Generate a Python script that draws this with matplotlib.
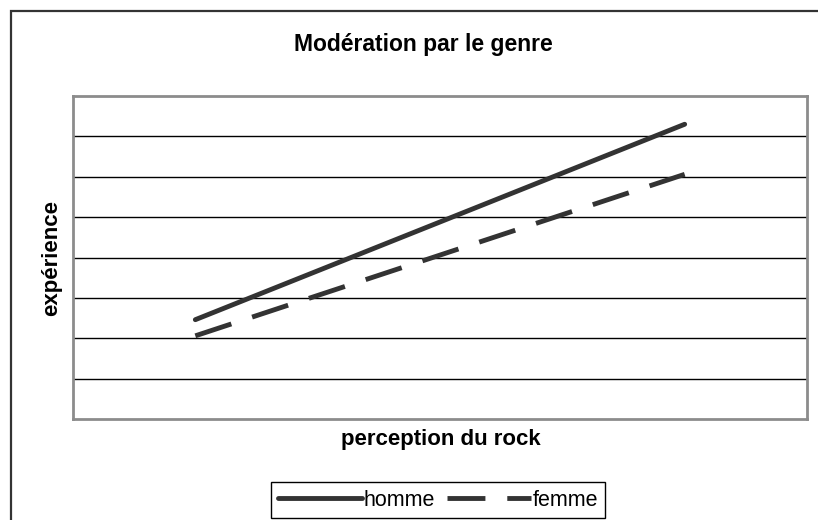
import matplotlib
matplotlib.use('agg')
import matplotlib.pyplot as plt
from matplotlib.patches import Rectangle

# two levels of rock perception, one line per gender
perception = [1, 5]
homme      = [2.46, 7.30]
femme      = [2.06, 6.06]

series_names = ['homme', 'femme']

plt.rcParams['font.family'] = ['Liberation Sans', 'DejaVu Sans']

fig = plt.figure(figsize=(8.18, 5.2), dpi=100)

# chart frame, running off the right and bottom edge
fig.patches.append(Rectangle((11 / 818, -0.1), 1.2, 1 - 11 / 520 + 0.1,
                             transform=fig.transFigure, fill=False,
                             edgecolor='#333333', linewidth=1.6, zorder=0))

ax = fig.add_axes([73 / 818, 101 / 520, 734 / 818, 323 / 520])
ax.set_xlim(0, 6)
ax.set_ylim(0, 8)
ax.set_yticks(range(1, 8))
ax.set_xticks([])
ax.tick_params(left=False, labelleft=False)
ax.grid(axis='y', color='black', linewidth=1.0)
ax.set_axisbelow(True)
for s in ax.spines.values():
  s.set_color('#8c8c8c')
  s.set_linewidth(2.0)

lw = 3.5
l1, = ax.plot(perception, homme, color='#333333', linewidth=lw,
              solid_capstyle='round', label=series_names[0])
l2, = ax.plot(perception, femme, color='#333333', linewidth=lw,
              dashes=(7.8, 4.5), dash_capstyle='butt', label=series_names[1])

fig.text(423 / 818, 1 - 45 / 520, 'Modération par le genre',
         ha='center', va='center', fontsize=16.5, fontweight='bold')
fig.text(441 / 818, 1 - 439 / 520, 'perception du rock',
         ha='center', va='center', fontsize=16, fontweight='bold')
fig.text(52 / 818, 1 - 258 / 520, 'expérience', rotation=90,
         ha='center', va='center', fontsize=16, fontweight='bold')

leg = fig.legend(handles=[l1, l2], loc='center', ncol=2,
                 bbox_to_anchor=(438 / 818, 1 - 500 / 520),
                 fontsize=15.5, handlelength=3.9, handletextpad=0.05,
                 columnspacing=0.6, borderpad=0.35, borderaxespad=0,
                 fancybox=False, framealpha=1, edgecolor='black')
leg.get_frame().set_linewidth(1.0)

fig.savefig('out.png', dpi=100)
